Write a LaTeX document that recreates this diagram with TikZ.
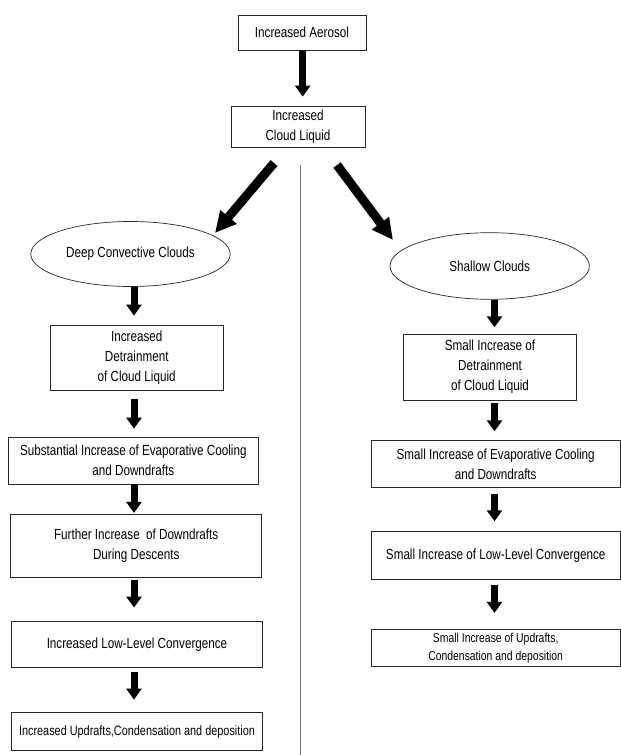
\documentclass[tikz,border=0pt]{standalone}
\usepackage{fontspec}
\setmainfont[FakeStretch=0.80]{Liberation Sans}
\usetikzlibrary{arrows.meta,shapes.geometric}
\begin{document}
\begin{tikzpicture}[x=1pt,y=-1pt,
  box/.style={draw=black!85,line width=0.8pt,inner sep=0pt,align=center,
    font=\fontsize{14.6}{20}\selectfont},
  oval/.style={ellipse,draw=black!85,line width=0.7pt,inner sep=0pt,
    font=\fontsize{14.6}{20}\selectfont},
  downarrow/.style={line width=7pt,-{Triangle[width=15pt,length=11pt]}},
  diagarrow/.style={line width=9pt,-{Triangle[width=20pt,length=21pt]}},
  sepline/.style={draw=black!55,line width=1pt}]
\useasboundingbox (0,0) rectangle (621,755);
\fill[white] (0,0) rectangle (621,755);

% top
\node[box,minimum width=128,minimum height=35] (aer) at (302,32.5) {Increased Aerosol};
\node[box,minimum width=134,minimum height=41] (liq) at (298,126.5) {Increased\\Cloud Liquid};

% ellipses
\node[oval,minimum width=199.4,minimum height=65] (deep) at (130.5,254) {Deep Convective Clouds};
\node[oval,minimum width=199.4,minimum height=66.6] (shal) at (489.7,266) {Shallow Clouds};

% left column
\node[box,minimum width=173.3,minimum height=65] (L1) at (136.7,357.5) {Increased\\Detrainment\\of Cloud Liquid};
\node[box,minimum width=250,minimum height=46.7] (L2) at (133.3,460.7) {Substantial Increase of Evaporative Cooling\\and Downdrafts};
\node[box,minimum width=251,minimum height=63] (L3) at (136.2,545.8) {Further Increase\ \ of Downdrafts\\During Descents};
\node[box,minimum width=250.6,minimum height=45.6] (L4) at (137,644.5) {Increased Low-Level Convergence};
\node[box,minimum width=250.6,minimum height=38,font=\fontsize{13.6}{18}\selectfont] (L5) at (137,731.7) {Increased Updrafts,Condensation and deposition};

% right column
\node[box,minimum width=173.4,minimum height=66] (R1) at (490,367) {Small Increase of\\Detrainment\\of Cloud Liquid};
\node[box,minimum width=249.5,minimum height=46.6] (R2) at (495.7,464) {Small Increase of Evaporative Cooling\\and Downdrafts};
\node[box,minimum width=249.5,minimum height=47.3] (R3) at (495.7,555.3) {Small Increase of Low-Level Convergence};
\node[box,minimum width=249.5,minimum height=37.4,font=\fontsize{13}{18}\selectfont] (R4) at (495.7,648) {Small Increase of Updrafts,\\Condensation and deposition};

% separator
\coordinate (septop) at (300.7,165);
\coordinate (sepbot) at (300.7,755);
\draw[sepline] (septop) -- (sepbot);

% column axes
\coordinate (xt) at (302.7,0);
\coordinate (xl) at (134,0);
\coordinate (xr) at (494.5,0);

% vertical arrows
\draw[downarrow,shorten >=9pt] (aer.south -| xt) -- (liq.north -| xt);
\draw[downarrow,shorten <=0.5pt,shorten >=9pt] (deep.south -| xl) -- (L1.north -| xl);
\draw[downarrow,shorten <=9pt,shorten >=8.3pt] (L1.south -| xl) -- (L2.north -| xl);
\draw[downarrow,shorten >=1pt] (L2.south -| xl) -- (L3.north -| xl);
\draw[downarrow,shorten <=2pt,shorten >=13.7pt] (L3.south -| xl) -- (L4.north -| xl);
\draw[downarrow,shorten <=4.4pt,shorten >=12.7pt] (L4.south -| xl) -- (L5.north -| xl);

\draw[downarrow,shorten <=0.7pt,shorten >=6.3pt] (shal.south -| xr) -- (R1.north -| xr);
\draw[downarrow,shorten <=3pt,shorten >=9pt] (R1.south -| xr) -- (R2.north -| xr);
\draw[downarrow,shorten <=6pt,shorten >=10pt] (R2.south -| xr) -- (R3.north -| xr);
\draw[downarrow,shorten <=6pt,shorten >=16pt] (R3.south -| xr) -- (R4.north -| xr);

% diagonal arrows
\coordinate (dls) at (274,163);
\coordinate (dlt) at (215,233);
\coordinate (drs) at (337,165);
\coordinate (drt) at (393,240);
\draw[diagarrow] (dls) -- (dlt);
\draw[diagarrow] (drs) -- (drt);
\end{tikzpicture}
\end{document}
